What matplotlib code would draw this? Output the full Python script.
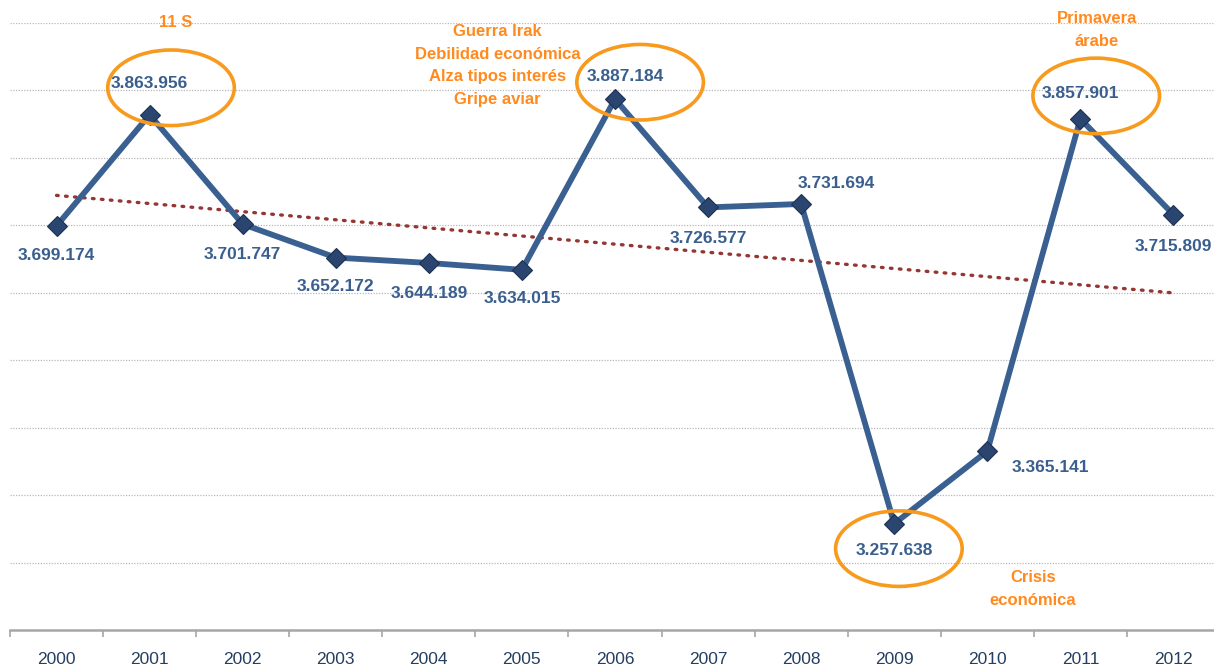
import numpy as np
import matplotlib
matplotlib.use('Agg')
import matplotlib.pyplot as plt
from matplotlib.patches import Ellipse

# Data
years = ['2000', '2001', '2002', '2003', '2004', '2005', '2006',
         '2007', '2008', '2009', '2010', '2011', '2012']
values = [3699174, 3863956, 3701747, 3652172, 3644189, 3634015, 3887184,
          3726577, 3731694, 3257638, 3365141, 3857901, 3715809]

# label offsets in pixels (dx, dy) for each data label
lab_off = [(0, -30), (0, 31), (0, -30), (0, -29), (0, -31), (0, -29), (10, 23),
           (0, -31), (35, 20), (0, -27), (63, -16), (0, 25), (0, -32)]

# highlighted points: index -> (ellipse centre offset x, offset y)
highlight = {1: (0.23, 40000), 6: (0.27, 25000), 9: (0.05, -37000), 11: (0.17, 34000)}

blue = '#3A6091'
navy = '#2A4670'
orange = '#F79A1E'
orange_txt = '#FF8A1F'
lab_col = '#3A5F8F'

fig = plt.figure(figsize=(12.14, 6.68), dpi=100)
ax = fig.add_axes([10/1214, (668-630)/668, 1210/1214, 607/668])

x = np.arange(len(years))
vals = np.array(values, dtype=float)

# gridlines
for g in np.arange(3.2e6, 4.01e6, 1e5):
    ax.axhline(g, color='#B8B8B8', lw=0.9, ls=(0, (1, 1.2)), zorder=0)

# trend line (linear fit)
k, b = np.polyfit(x, vals, 1)
ax.plot(x, k*x + b, color='#943634', lw=2.4, ls=(0, (0.5, 2.2)),
        dash_capstyle='round', zorder=2)

ax.plot(x, vals, color=blue, lw=4.2, zorder=3, solid_joinstyle='miter')
ax.plot(x, vals, ls='none', marker='D', ms=10, mfc=navy, mec='#1E3050',
        mew=0.8, zorder=4)

for i, v in enumerate(values):
    s = '{:,}'.format(v).replace(',', '.')
    ax.annotate(s, (x[i], v), xytext=lab_off[i], textcoords='offset pixels',
                ha='center', va='center', fontsize=12.5, fontweight='bold',
                color=lab_col, family='Liberation Sans', zorder=5,
                annotation_clip=False)

for i, (dx, dy) in highlight.items():
    ax.add_patch(Ellipse((x[i] + dx, values[i] + dy), 1.36, 112000,
                         fill=False, ec=orange, lw=2.6, zorder=6))

tfont = dict(ha='center', va='center', fontsize=12, fontweight='bold',
             color=orange_txt, family='Liberation Sans', linespacing=1.65)
ax.text(1.28, 4.0007e6, '11 S', **tfont)
ax.text(4.74, 3.937e6, 'Guerra Irak\nDebilidad económica\nAlza tipos interés\nGripe aviar', **tfont)
ax.text(11.18, 3.990e6, 'Primavera\nárabe', **tfont)
ax.text(10.49, 3.1607e6, 'Crisis\neconómica', **tfont)

ax.set_xlim(-0.5, 12.5)
ax.set_ylim(3.1e6, 4.0e6)
ax.set_yticks([])
ax.set_xticks(x)
ax.set_xticklabels(years, fontsize=12.5, color='#243F60', family='Liberation Sans')
ax.set_xticks(np.arange(-0.5, 13, 1), minor=True)
ax.tick_params(axis='x', which='major', length=0, pad=16)
ax.tick_params(axis='x', which='minor', length=5, color='#A6A6A6', width=1.2)
for sp in ['top', 'right', 'left']:
    ax.spines[sp].set_visible(False)
ax.spines['bottom'].set_color('#A6A6A6')
ax.spines['bottom'].set_linewidth(1.8)

fig.savefig('out.png', dpi=100)
